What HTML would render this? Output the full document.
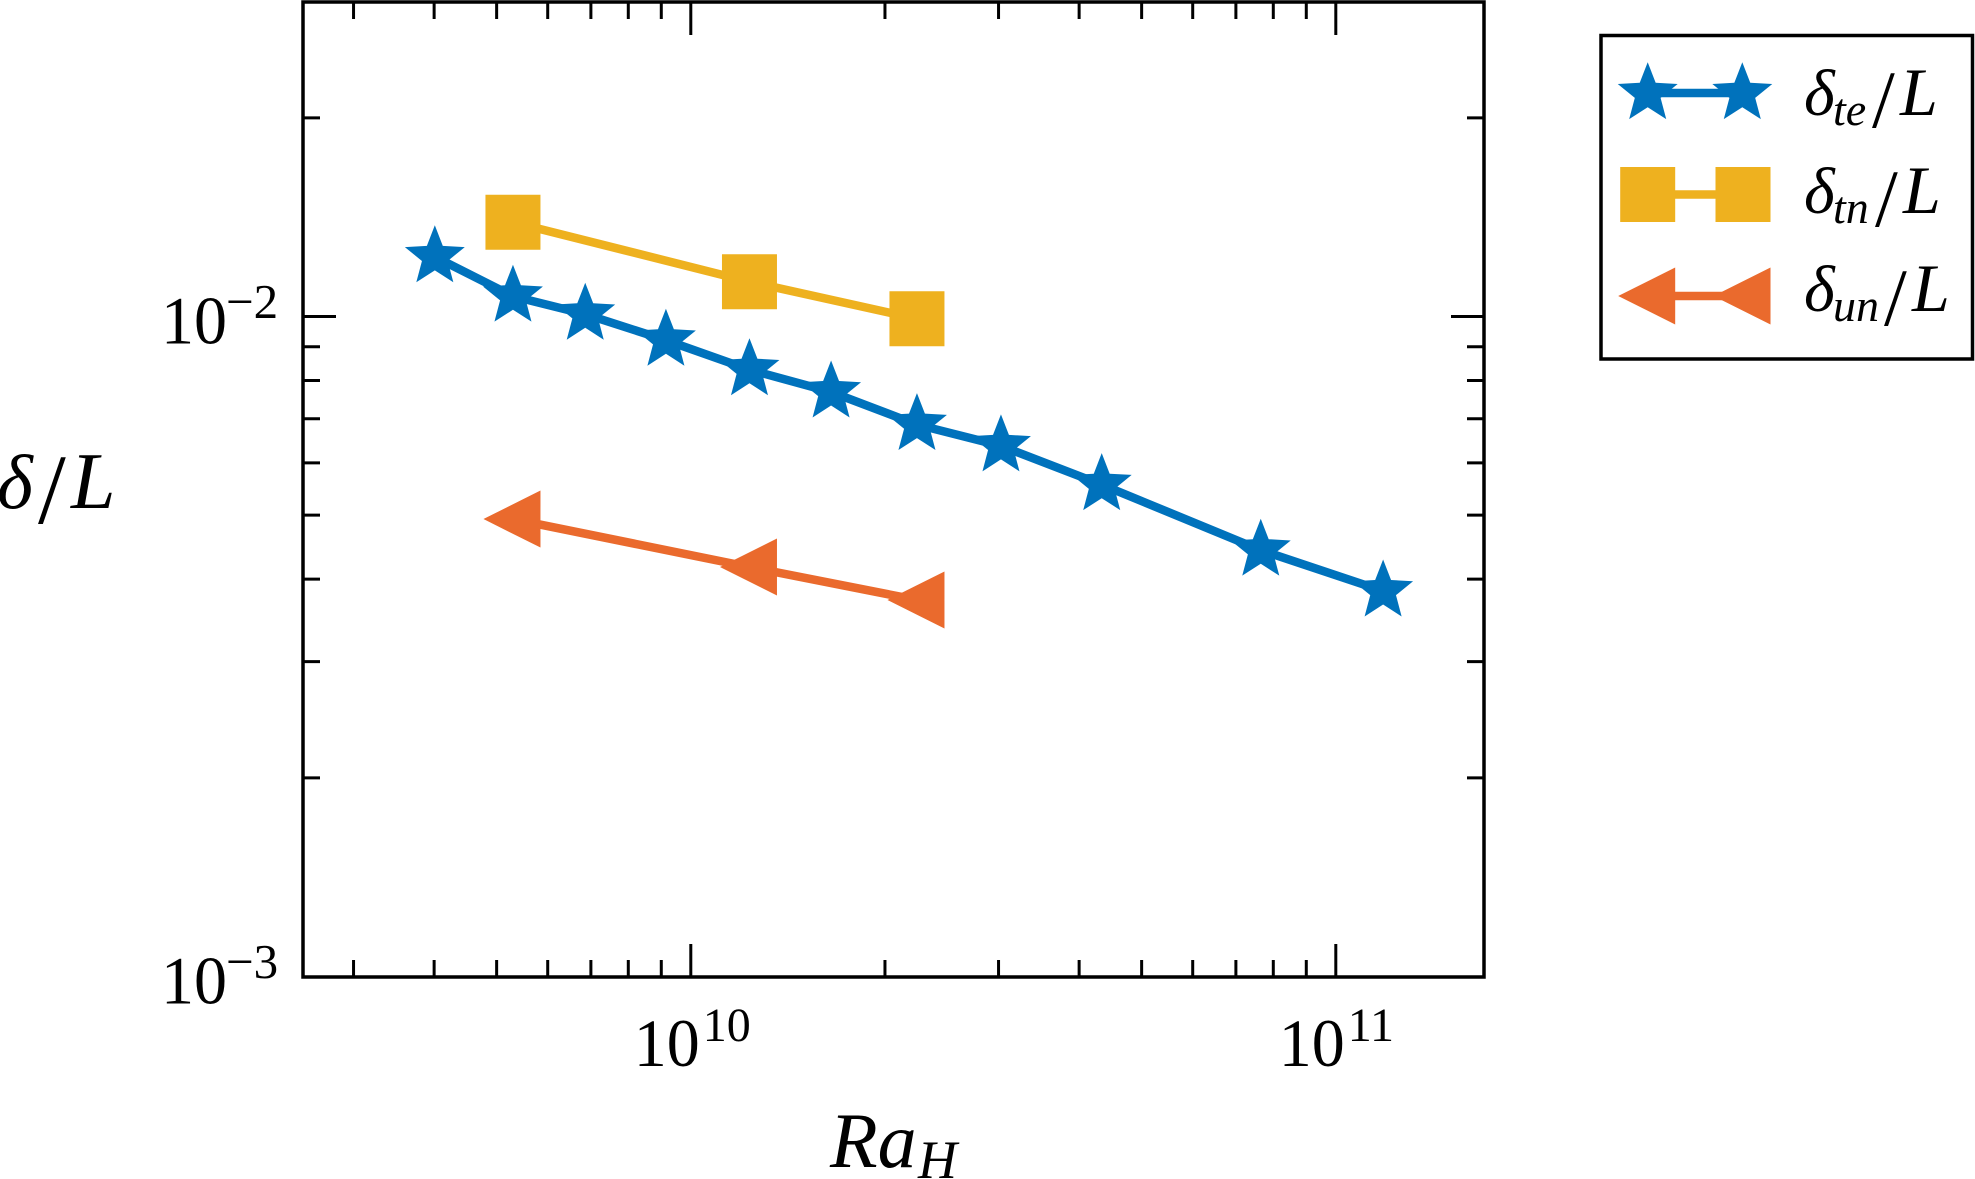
<!DOCTYPE html>
<html lang="en">
<head>
<meta charset="utf-8">
<title>Boundary layer thickness vs Rayleigh number</title>
<style>
html,body{margin:0;padding:0;background:#fff;}
svg{display:block;}
text{font-family:"Liberation Serif","Noto Serif CJK SC",serif;fill:#000;}
</style>
</head>
<body>
<svg id="chart" width="1975" height="1179" viewBox="0 0 1975 1179" xmlns="http://www.w3.org/2000/svg">
<rect x="0" y="0" width="1975" height="1179" fill="#fff"/>
<g id="series-layer"></g>
<g id="axes-layer"></g>
<g id="y-axis-title">
<text x="-3" y="508" font-size="77" font-style="italic">δ</text>
<text x="38" y="523" font-size="100">/</text>
<text x="71" y="508" font-size="80" font-style="italic">L</text>
</g>
<g id="x-axis-title">
<text x="830" y="1167" font-size="78" font-style="italic">Ra</text>
<text x="918" y="1178" font-size="54" font-style="italic">H</text>
</g>
<g id="legend">
<rect x="1601" y="35.5" width="371.5" height="323.5" fill="#fff" stroke="#000" stroke-width="3.5"/>
<g id="legend-marks"></g>
<g>
<text x="1804" y="115" font-size="66" font-style="italic">δ</text>
<text x="1833" y="125" font-size="46" font-style="italic">te</text>
<text x="1872" y="127" font-size="82">/</text>
<text x="1900" y="115" font-size="68" font-style="italic">L</text>
</g>
<g>
<text x="1804" y="213" font-size="66" font-style="italic">δ</text>
<text x="1833" y="223" font-size="46" font-style="italic">tn</text>
<text x="1875" y="226" font-size="82">/</text>
<text x="1903" y="213" font-size="68" font-style="italic">L</text>
</g>
<g>
<text x="1804" y="311" font-size="66" font-style="italic">δ</text>
<text x="1833" y="321" font-size="46" font-style="italic">un</text>
<text x="1884" y="325" font-size="82">/</text>
<text x="1912" y="311" font-size="68" font-style="italic">L</text>
</g>
</g>
<script>
// Chart data
const raTe = [4.01e9, 5.30e9, 6.86e9, 9.15e9, 1.233e10, 1.650e10, 2.242e10, 3.026e10, 4.336e10, 7.65e10, 1.184e11];
const deltaTe = [1.2315e-2, 1.0734e-2, 1.0080e-2, 9.206e-3, 8.306e-3, 7.685e-3, 6.859e-3, 6.368e-3, 5.562e-3, 4.425e-3, 3.838e-3];
const raTn = [5.30e9, 1.233e10, 2.242e10];
const deltaTn = [1.3895e-2, 1.1290e-2, 9.92e-3];
const raUn = [5.30e9, 1.233e10, 2.242e10];
const deltaUn = [4.933e-3, 4.173e-3, 3.720e-3];
const xMajorTicks = [1e10, 1e11];
const xMajorExponents = ['10', '11'];
const xMinorTicks = [3e9, 4e9, 5e9, 6e9, 7e9, 8e9, 9e9, 2e10, 3e10, 4e10, 5e10, 6e10, 7e10, 8e10, 9e10];
const yMajorTicks = [1e-3, 1e-2];
const yMajorExponents = ['\u22123', '\u22122'];
const yMinorTicks = [2e-3, 3e-3, 4e-3, 5e-3, 6e-3, 7e-3, 8e-3, 9e-3, 2e-2];

const NS = 'http://www.w3.org/2000/svg';
const plotLeft = 303, plotRight = 1484, plotTop = 2, plotBottom = 977;
const BLUE = '#0072BC', GOLD = '#EEB11F', ORANGE = '#EA6A2D';

function xScale(v) { return 690.8 + 645 * (Math.log10(v) - 10); }
function yScale(v) { return 316.5 - 660 * (Math.log10(v) + 2); }

function make(tag, parent) {
  const el = document.createElementNS(NS, tag);
  parent.appendChild(el);
  return el;
}
function setLine(el, x1, y1, x2, y2, color, width) {
  el.setAttribute('x1', x1);
  el.setAttribute('y1', y1);
  el.setAttribute('x2', x2);
  el.setAttribute('y2', y2);
  el.setAttribute('stroke', color);
  el.setAttribute('stroke-width', width);
}
function starPoints(cx, cy) {
  const R = 31.5, r = R * 0.43, pts = [];
  for (let i = 0; i < 10; i++) {
    const a = -Math.PI / 2 + i * Math.PI / 5, q = i % 2 ? r : R;
    pts.push((cx + q * Math.cos(a)).toFixed(2) + ',' + (cy + q * Math.sin(a)).toFixed(2));
  }
  return pts.join(' ');
}
function trianglePoints(cx, cy) {
  return [(cx - 29.5) + ',' + cy, (cx + 27.5) + ',' + (cy - 28.5), (cx + 27.5) + ',' + (cy + 28.5)].join(' ');
}
function squarePoints(cx, cy) {
  const h = 27.5;
  return [(cx - h) + ',' + (cy - h), (cx + h) + ',' + (cy - h), (cx + h) + ',' + (cy + h), (cx - h) + ',' + (cy + h)].join(' ');
}
function polylinePoints(xs, ys) {
  return xs.map(function (v, i) { return xScale(v).toFixed(2) + ',' + yScale(ys[i]).toFixed(2); }).join(' ');
}

// Series
const seriesLayer = document.getElementById('series-layer');

const lineTn = make('polyline', seriesLayer);


lineTn.setAttribute('points', polylinePoints(raTn, deltaTn));
lineTn.setAttribute('fill', 'none');
lineTn.setAttribute('stroke', GOLD);
lineTn.setAttribute('stroke-width', '8.5');
raTn.forEach(function (v, i) {
  const m = make('polygon', seriesLayer);
  
  
  m.setAttribute('points', squarePoints(xScale(v), yScale(deltaTn[i])));
  m.setAttribute('fill', GOLD);
});

const lineUn = make('polyline', seriesLayer);


lineUn.setAttribute('points', polylinePoints(raUn, deltaUn));
lineUn.setAttribute('fill', 'none');
lineUn.setAttribute('stroke', ORANGE);
lineUn.setAttribute('stroke-width', '8.5');
raUn.forEach(function (v, i) {
  const m = make('polygon', seriesLayer);
  
  
  m.setAttribute('points', trianglePoints(xScale(v), yScale(deltaUn[i])));
  m.setAttribute('fill', ORANGE);
});

const lineTe = make('polyline', seriesLayer);


lineTe.setAttribute('points', polylinePoints(raTe, deltaTe));
lineTe.setAttribute('fill', 'none');
lineTe.setAttribute('stroke', BLUE);
lineTe.setAttribute('stroke-width', '8.5');
raTe.forEach(function (v, i) {
  const m = make('polygon', seriesLayer);
  
  
  m.setAttribute('points', starPoints(xScale(v), yScale(deltaTe[i])));
  m.setAttribute('fill', BLUE);
});

// Axes
const axesLayer = document.getElementById('axes-layer');
const MAJOR = 33, MINOR = 17, TICKW = 3;

xMinorTicks.forEach(function (v) {
  const x = xScale(v);
  const b = make('line', axesLayer);
  
  
  setLine(b, x, plotBottom, x, plotBottom - MINOR, '#000', TICKW);
  const t = make('line', axesLayer);
  
  
  setLine(t, x, plotTop, x, plotTop + MINOR, '#000', TICKW);
});
xMajorTicks.forEach(function (v, i) {
  const x = xScale(v);
  const b = make('line', axesLayer);
  
  
  setLine(b, x, plotBottom, x, plotBottom - MAJOR, '#000', TICKW);
  const t = make('line', axesLayer);
  
  
  setLine(t, x, plotTop, x, plotTop + MAJOR, '#000', TICKW);
  const base = make('text', axesLayer);
  
  
  base.setAttribute('x', x - 57);
  base.setAttribute('y', 1066);
  base.setAttribute('font-size', '68');
  base.setAttribute('textLength', '66');
  base.setAttribute('lengthAdjust', 'spacingAndGlyphs');
  base.textContent = '10';
  const sup = make('text', axesLayer);
  
  
  sup.setAttribute('x', x + 12);
  sup.setAttribute('y', 1041);
  sup.setAttribute('font-size', '48');
  sup.textContent = xMajorExponents[i];
});
yMinorTicks.forEach(function (v) {
  const y = yScale(v);
  const l = make('line', axesLayer);
  
  
  setLine(l, plotLeft, y, plotLeft + MINOR, y, '#000', TICKW);
  const r = make('line', axesLayer);
  
  
  setLine(r, plotRight, y, plotRight - MINOR, y, '#000', TICKW);
});
yMajorTicks.forEach(function (v, i) {
  const y = yScale(v);
  if (y < plotBottom - 1) {
    const l = make('line', axesLayer);
    
    
    setLine(l, plotLeft, y, plotLeft + MAJOR, y, '#000', TICKW);
    const r = make('line', axesLayer);
    
    
    setLine(r, plotRight, y, plotRight - MAJOR, y, '#000', TICKW);
  }
  const base = make('text', axesLayer);
  
  
  base.setAttribute('x', 161);
  base.setAttribute('y', y + 27);
  base.setAttribute('font-size', '68');
  base.setAttribute('textLength', '66');
  base.setAttribute('lengthAdjust', 'spacingAndGlyphs');
  base.textContent = '10';
  const sup = make('text', axesLayer);
  
  
  sup.setAttribute('x', 226);
  sup.setAttribute('y', y + 1.5);
  sup.setAttribute('font-size', '49');
  sup.textContent = yMajorExponents[i];
});
const frame = make('rect', axesLayer);


frame.setAttribute('x', plotLeft);
frame.setAttribute('y', plotTop);
frame.setAttribute('width', plotRight - plotLeft);
frame.setAttribute('height', plotBottom - plotTop);
frame.setAttribute('fill', 'none');
frame.setAttribute('stroke', '#000');
frame.setAttribute('stroke-width', '3.5');

// Legend marks
const legendMarks = document.getElementById('legend-marks');
const legLineTe = make('line', legendMarks);


setLine(legLineTe, 1648, 93, 1742, 93, BLUE, 8.5);
const legStarA = make('polygon', legendMarks);


legStarA.setAttribute('points', starPoints(1647.7, 93.7));
legStarA.setAttribute('fill', BLUE);
const legStarB = make('polygon', legendMarks);


legStarB.setAttribute('points', starPoints(1742.3, 93.7));
legStarB.setAttribute('fill', BLUE);

const legLineTn = make('line', legendMarks);


setLine(legLineTn, 1648, 194.5, 1743, 194.5, GOLD, 8.5);
const legSquareA = make('polygon', legendMarks);


legSquareA.setAttribute('points', squarePoints(1647.7, 194.5));
legSquareA.setAttribute('fill', GOLD);
const legSquareB = make('polygon', legendMarks);


legSquareB.setAttribute('points', squarePoints(1743, 194.5));
legSquareB.setAttribute('fill', GOLD);

const legLineUn = make('line', legendMarks);


setLine(legLineUn, 1648, 296, 1743, 296, ORANGE, 8.5);
const legTriA = make('polygon', legendMarks);


legTriA.setAttribute('points', trianglePoints(1647.7, 296));
legTriA.setAttribute('fill', ORANGE);
const legTriB = make('polygon', legendMarks);


legTriB.setAttribute('points', trianglePoints(1743, 296));
legTriB.setAttribute('fill', ORANGE);
</script>
</svg>
</body>
</html>
